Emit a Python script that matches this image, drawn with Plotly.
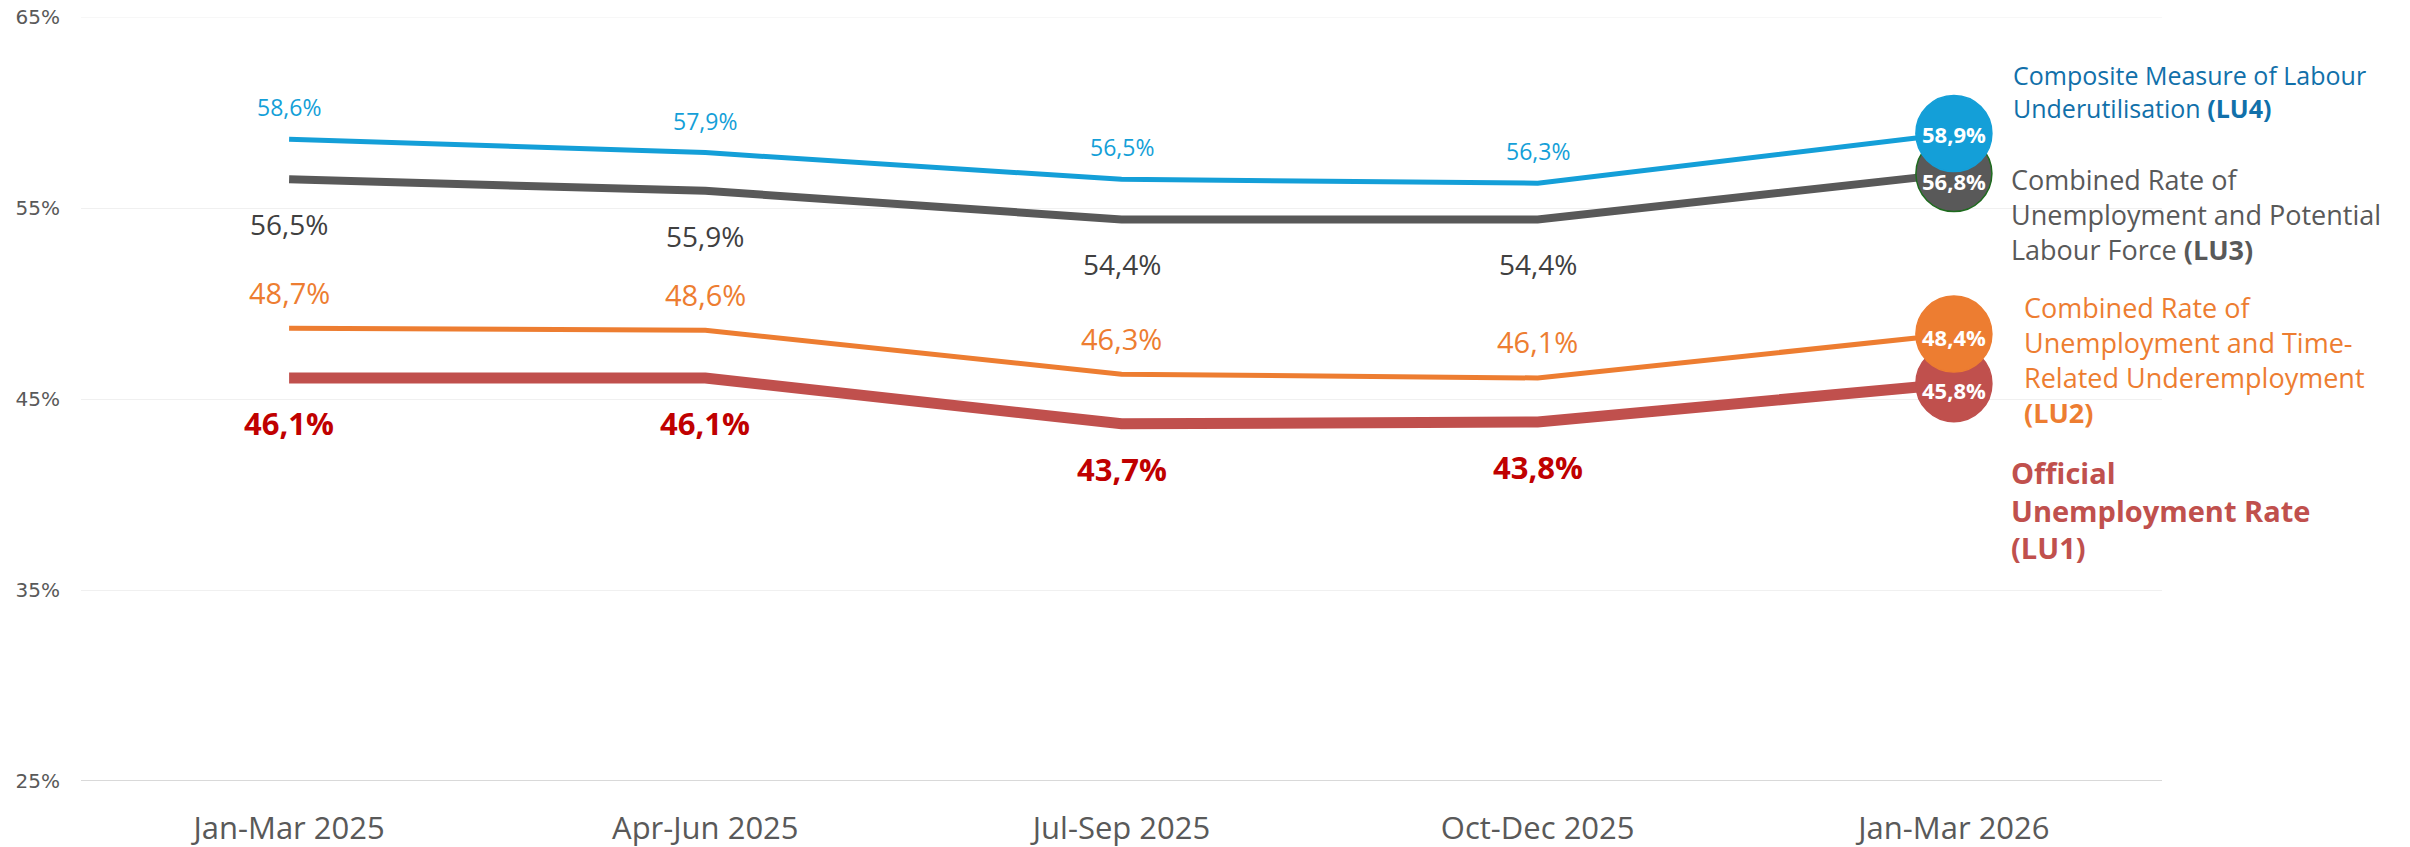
import plotly.graph_objects as go

categories = ["Jan-Mar 2025", "Apr-Jun 2025", "Jul-Sep 2025", "Oct-Dec 2025", "Jan-Mar 2026"]
lu4 = [58.6, 57.9, 56.5, 56.3, 58.9]
lu3 = [56.5, 55.9, 54.4, 54.4, 56.8]
lu2 = [48.7, 48.6, 46.3, 46.1, 48.4]
lu1 = [46.1, 46.1, 43.7, 43.8, 45.8]
y_ticks = [25, 35, 45, 55, 65]

FONT = "Open Sans"


def fmt(v):
    return f"{v:.1f}%".replace(".", ",")


series = [
    dict(vals=lu1, color="#C0504D", width=11, lc="#C00000", ls=31, bold=True, yshift=-45, outline="#C0504D", cshift=-6),
    dict(vals=lu2, color="#ED7D31", width=5, lc="#ED7D31", ls=29, bold=False, yshift=36, outline="#ED7D31", cshift=-3),
    dict(vals=lu3, color="#595959", width=8, lc="#404040", ls=28, bold=False, yshift=-45, outline="#1E6B1E", cshift=-7),
    dict(vals=lu4, color="#149FD8", width=5, lc="#149FD8", ls=23, bold=False, yshift=32, outline="#149FD8", cshift=0),
]

fig = go.Figure()
annotations = []
for s in series:
    fig.add_trace(go.Scatter(
        x=categories, y=s["vals"], mode="lines",
        line=dict(color=s["color"], width=s["width"]),
        hoverinfo="skip", showlegend=False, cliponaxis=False,
    ))
    fig.add_trace(go.Scatter(
        x=[categories[-1]], y=[s["vals"][-1]], mode="markers",
        marker=dict(size=76, color=s["color"], line=dict(color=s["outline"], width=1.5)),
        hoverinfo="skip", showlegend=False, cliponaxis=False,
    ))
    annotations.append(dict(
        x=categories[-1], y=s["vals"][-1], xref="x", yref="y",
        text=f"<b>{fmt(s['vals'][-1])}</b>", showarrow=False, yshift=s["cshift"],
        font=dict(family=FONT, size=22, color="white"),
    ))
    for c, v in zip(categories[:-1], s["vals"][:-1]):
        t = fmt(v)
        if s["bold"]:
            t = f"<b>{t}</b>"
        annotations.append(dict(
            x=c, y=v, xref="x", yref="y", text=t, showarrow=False,
            yshift=s["yshift"], font=dict(family=FONT, size=s["ls"], color=s["lc"]),
        ))

legend_texts = [
    ("Composite Measure of Labour<br>Underutilisation <b>(LU4)</b>", "#1170AA", 25, 0.9274, 0.9025),
    ("Combined Rate of<br>Unemployment and Potential<br>Labour Force <b>(LU3)</b>", "#595959", 27, 0.9265, 0.742),
    ("Combined Rate of<br>Unemployment and Time-<br>Related Underemployment<br><b>(LU2)</b>", "#ED7D31", 27, 0.9327, 0.551),
    ("<b>Official<br>Unemployment Rate<br>(LU1)</b>", "#C0504D", 29, 0.9265, 0.355),
]
for txt, col, sz, px, py in legend_texts:
    annotations.append(dict(
        x=px, y=py, xref="paper", yref="paper", text=txt, showarrow=False,
        xanchor="left", yanchor="middle", align="left",
        font=dict(family=FONT, size=sz, color=col),
    ))

fig.update_layout(
    width=2410, height=847,
    margin=dict(l=81, r=248, t=17, b=66, autoexpand=False),
    paper_bgcolor="white", plot_bgcolor="white",
    annotations=annotations,
    xaxis=dict(
        type="category", range=[-0.5, 4.5], showgrid=False, showline=False,
        tickfont=dict(family=FONT, size=31, color="#595959"), ticks="",
        ticklabelstandoff=26, automargin=False, ticklabeloverflow="allow",
    ),
    yaxis=dict(
        range=[25, 65], tickvals=y_ticks, ticktext=[f"{t}%" for t in y_ticks],
        showgrid=True, gridcolor="#F0F0F0", gridwidth=1,
        zeroline=False, showline=False, ticks="",
        tickfont=dict(family="DejaVu Sans", size=20, color="#595959"),
        ticklabelstandoff=20, automargin=False, ticklabeloverflow="allow",
    ),
    shapes=[
        dict(type="line", xref="paper", yref="y", x0=0, x1=1, y0=25, y1=25,
             line=dict(color="#D9D9D9", width=2), layer="below"),
        dict(type="line", xref="paper", yref="y", x0=0, x1=1, y0=65, y1=65,
             line=dict(color="#F0F0F0", width=1), layer="below"),
    ],
)

# remove the browser's default 8px body margin so the figure fills the window exactly
fig.write_html("out.html", config={"displayModeBar": False},
               post_script="document.body.style.margin='0px';document.body.style.overflow='hidden';")
